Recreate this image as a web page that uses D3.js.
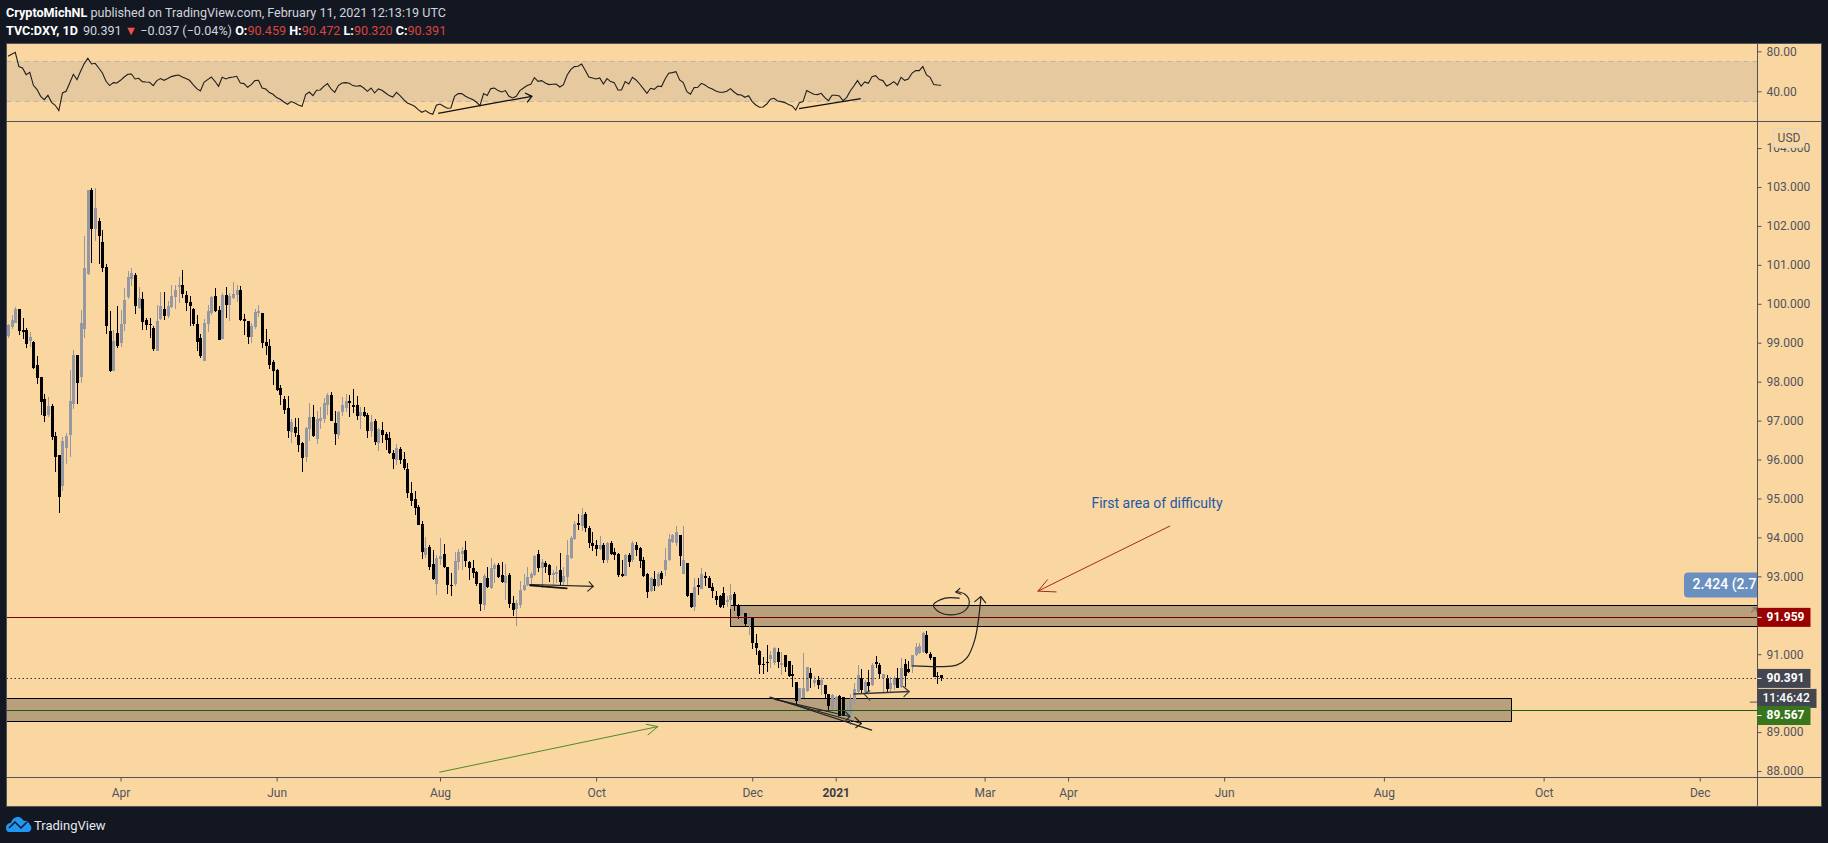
<!DOCTYPE html>
<html lang="en">
<head>
    <meta charset="UTF-8">
    <title>TVC:DXY, 1D</title>
    <script src="https://d3js.org/d3.v7.min.js"></script>
    <style>
        body {
            margin: 0;
            padding: 0;
            overflow: hidden;
            background: #131722;
        }
        text {
            font-family: Roboto, sans-serif;
        }
        .axis path, .axis line {
            stroke: #50535e;
        }
        .axis text {
            fill: #50535e;
            font-size: 12px;
            font-family: Roboto, sans-serif;
        }
    </style>
</head>
<body>
    <svg id="canvas"></svg>

    <script>
        // Daily candles
        const opens = [
            99.17,99.40,99.51,99.87,99.33,99.33,99.05,99.02,98.43,98.12,
            97.56,97.14,97.37,96.60,96.12,95.32,96.30,96.63,97.43,98.69,
            98.12,99.35,100.77,102.92,101.92,102.13,101.59,100.95,99.30,98.27,
            99.25,98.99,99.48,100.17,100.64,100.74,99.89,100.12,99.58,99.48,
            99.38,98.79,99.61,99.87,99.69,99.92,100.17,100.43,100.48,100.23,
            100.05,99.87,99.48,99.12,98.53,99.48,99.76,100.20,99.84,99.10,
            100.23,99.97,100.15,100.23,100.36,99.61,99.56,99.15,99.41,99.76,
            99.76,99.02,98.92,98.51,98.30,97.84,97.56,97.33,96.71,96.84,
            96.63,96.43,96.07,96.78,97.09,96.53,96.99,97.04,97.40,97.66,
            96.94,96.63,97.22,97.32,97.50,97.40,97.40,97.12,97.22,97.15,
            96.73,96.99,96.43,96.76,96.66,96.55,96.17,95.99,96.27,96.01,
            95.76,95.14,94.99,94.78,94.35,93.55,93.75,93.32,92.80,93.45,
            93.57,93.24,92.78,92.80,93.37,93.57,93.68,93.37,93.21,93.11,
            92.83,92.26,92.96,92.70,93.19,93.29,93.03,92.83,93.03,92.32,
            92.16,92.26,92.65,92.78,92.96,93.03,93.57,93.21,93.33,93.29,
            93.04,93.05,93.16,92.86,92.99,93.46,93.96,94.37,94.28,94.59,
            94.25,93.85,93.81,93.70,93.81,93.42,93.85,93.63,93.57,93.05,
            93.02,93.55,93.42,93.81,93.73,93.42,93.06,92.63,92.93,92.75,
            93.08,93.15,93.42,93.89,93.85,94.06,93.06,93.33,92.56,92.22,
            92.77,92.68,93.01,92.97,92.73,92.49,92.50,92.58,92.33,92.38,
            92.54,92.24,92.01,92.05,91.75,91.95,91.30,91.07,90.74,90.81,
            90.88,90.77,91.05,90.72,90.98,90.82,90.49,90.29,89.80,89.88,
            90.06,90.52,90.27,90.34,90.21,90.21,89.98,89.58,89.82,89.93,
            89.89,89.41,89.44,89.82,90.04,90.40,90.04,90.29,90.21,90.81,
            90.72,90.38,90.38,90.10,90.21,90.38,90.15,90.75,90.61,90.68,
            90.98,91.02,91.06,91.49,91.00,90.92,90.44,90.459
        ];
        const highs = [
            99.48,99.71,99.92,99.87,99.64,99.38,99.28,99.05,98.66,98.12,
            97.68,97.61,97.43,96.71,96.12,96.58,96.68,98.30,98.81,98.69,
            99.84,101.74,102.92,102.97,102.97,102.20,101.90,101.02,99.81,99.33,
            99.94,99.84,100.41,100.84,100.92,100.79,100.43,100.30,99.64,99.64,
            99.43,99.97,100.30,100.30,100.07,100.48,100.48,100.69,100.87,100.33,
            100.20,99.89,99.71,99.23,99.61,99.97,100.20,100.41,99.94,100.28,
            100.43,100.28,100.56,100.48,100.46,99.74,99.56,99.51,99.87,99.97,
            99.76,99.35,99.10,98.56,98.33,97.92,97.63,97.63,97.04,97.07,
            97.07,96.45,96.84,97.45,97.40,97.25,97.35,97.58,97.71,97.73,
            97.25,97.25,97.61,97.68,97.66,97.81,97.63,97.35,97.35,97.20,
            97.15,97.04,96.81,96.96,96.71,96.71,96.25,96.40,96.32,96.20,
            95.91,95.42,95.19,94.83,94.42,94.01,93.81,93.68,93.55,93.98,
            93.83,93.24,93.09,93.63,93.70,93.75,93.91,93.40,93.42,93.14,
            92.83,93.06,93.24,93.47,93.34,93.34,93.37,93.32,93.09,92.50,
            92.39,92.88,93.06,93.24,93.11,93.55,93.68,93.45,93.39,93.31,
            93.15,93.27,93.59,93.23,93.93,94.04,94.41,94.59,94.76,94.64,
            94.28,94.15,93.93,94.04,93.86,93.89,93.91,93.72,93.59,93.42,
            93.57,93.61,93.91,93.87,93.76,93.49,93.08,92.99,93.14,93.12,
            93.14,93.72,94.10,94.10,94.29,94.06,94.29,93.33,92.56,92.97,
            92.95,93.21,93.12,93.01,92.82,92.62,92.52,92.72,92.50,92.80,
            92.59,92.29,92.20,92.07,92.05,91.95,91.52,91.11,90.94,91.24,
            91.07,91.18,91.15,91.06,90.98,90.82,90.72,90.29,90.12,91.04,
            90.68,90.65,90.44,90.44,90.38,90.21,89.98,89.97,89.93,89.95,
            89.91,89.74,89.99,90.25,90.72,90.61,90.34,90.59,90.78,90.95,
            90.77,90.49,90.47,90.41,90.44,90.64,90.89,90.87,90.82,90.98,
            91.30,91.30,91.58,91.60,91.06,90.92,90.53,90.472
        ];
        const lows = [
            99.12,99.35,99.51,99.20,99.10,98.87,98.89,98.33,97.94,97.14,
            96.97,97.09,96.50,95.68,94.63,95.19,95.89,96.07,97.30,97.43,
            97.97,99.12,100.74,101.05,101.61,101.02,100.82,99.23,98.25,98.27,
            98.87,98.89,99.30,100.12,100.46,99.74,99.87,99.33,99.33,99.12,
            98.79,98.79,99.58,99.58,99.64,99.89,99.87,100.02,100.15,99.81,
            99.43,99.43,98.79,98.61,98.53,99.28,99.71,99.79,99.07,99.10,
            99.64,99.56,100.12,100.05,99.56,99.20,98.97,98.99,99.35,99.66,
            98.87,98.69,98.33,97.92,97.76,97.40,97.17,96.55,96.43,96.58,
            96.20,95.68,95.94,96.48,96.58,96.40,96.78,96.94,97.14,96.99,
            96.37,96.53,97.12,97.22,97.09,97.20,97.02,96.78,97.09,96.55,
            96.58,96.37,96.22,96.43,96.25,96.14,95.76,95.86,95.89,95.73,
            95.01,94.81,94.58,94.32,93.45,93.47,93.16,92.91,92.52,93.29,
            93.22,92.55,92.50,92.75,93.16,93.16,93.24,92.91,92.96,92.75,
            92.11,92.14,92.70,92.67,92.83,92.96,92.82,92.39,92.19,91.98,
            91.72,92.19,92.62,92.75,92.78,93.01,93.11,92.69,93.08,92.86,
            92.78,92.82,92.78,92.78,92.78,93.44,93.93,94.19,94.17,94.15,
            93.72,93.65,93.51,93.68,93.34,93.34,93.55,93.42,92.99,92.99,
            93.01,93.23,93.38,93.52,93.21,92.99,92.45,92.61,92.63,92.72,
            92.78,93.01,93.39,93.85,93.79,93.27,93.05,92.48,92.18,92.12,
            92.52,92.67,92.74,92.69,92.44,92.27,92.18,92.18,92.22,92.15,
            92.12,91.90,91.79,91.73,91.49,91.13,90.98,90.49,90.48,90.55,
            90.64,90.72,90.64,90.47,90.55,90.42,90.17,89.72,89.80,89.88,
            90.04,90.12,90.15,90.10,89.95,89.84,89.56,89.55,89.57,89.42,
            89.42,89.29,89.18,89.70,90.01,90.01,89.99,90.04,90.18,90.64,
            90.38,90.04,90.04,90.01,90.08,90.12,90.12,90.15,90.51,90.51,
            90.95,91.00,91.04,91.00,90.85,90.41,90.23,90.320
        ];
        const closes = [
            99.46,99.58,99.87,99.30,99.28,98.97,99.15,98.35,98.10,97.48,
            97.12,97.37,96.58,96.07,95.04,96.48,96.60,97.50,98.69,97.97,
            99.51,100.92,102.92,101.92,102.46,101.74,100.92,99.43,98.27,99.05,
            98.92,99.48,100.10,100.69,100.79,99.94,100.15,99.53,99.46,99.46,
            98.84,99.56,99.94,99.69,99.94,100.20,100.36,100.48,100.25,100.02,
            99.94,99.48,99.02,98.66,99.51,99.81,100.17,99.81,99.07,100.23,
            99.97,100.20,100.25,100.36,99.58,99.56,99.15,99.43,99.79,99.82,
            98.99,98.92,98.43,98.28,97.79,97.66,97.27,96.73,96.96,96.68,
            96.37,96.04,96.81,97.09,96.60,97.04,97.07,97.45,97.66,96.99,
            96.66,97.22,97.40,97.50,97.45,97.35,97.12,97.22,97.12,96.73,
            96.96,96.45,96.78,96.63,96.50,96.17,96.01,96.30,95.99,95.78,
            95.14,94.93,94.76,94.32,93.63,93.73,93.24,92.93,93.47,93.53,
            93.24,92.78,92.75,93.40,93.63,93.65,93.40,93.21,93.09,92.80,
            92.29,93.01,92.73,93.21,93.29,92.98,92.86,93.01,92.29,92.14,
            92.32,92.65,92.78,92.98,93.06,93.52,93.21,93.38,93.23,93.04,
            93.09,93.12,92.86,93.01,93.55,93.98,94.34,94.32,94.58,94.25,
            93.85,93.79,93.70,93.81,93.42,93.85,93.57,93.55,93.03,93.01,
            93.55,93.36,93.86,93.68,93.39,93.02,92.61,92.97,92.75,93.06,
            92.93,93.42,93.96,94.05,94.14,93.52,93.42,92.50,92.20,92.72,
            92.73,93.06,92.95,92.71,92.62,92.40,92.20,92.26,92.38,92.52,
            92.24,91.98,92.15,91.77,91.90,91.30,91.15,90.71,90.71,90.77,
            90.98,91.15,90.81,90.78,90.68,90.44,90.44,89.80,90.12,90.12,
            90.68,90.38,90.34,90.21,90.34,89.98,89.67,89.95,89.91,89.42,
            89.42,89.57,89.82,90.10,90.47,90.08,90.29,90.19,90.72,90.75,
            90.49,90.49,90.10,90.25,90.38,90.14,90.64,90.44,90.55,90.98,
            91.19,91.21,91.55,91.02,90.89,90.42,90.41,90.391
        ];

        // RSI pane, one value per candle
        const rsiValues = [
            75.0,77.0,79.0,64.7,63.3,56.7,59.0,46.0,41.7,35.0,
            31.7,36.0,29.0,26.0,20.7,38.3,40.0,48.3,57.0,51.7,
            60.0,67.7,73.0,67.3,68.0,63.3,58.3,50.0,45.7,48.7,
            48.3,51.0,54.3,57.0,57.3,52.3,53.0,49.7,49.3,49.0,
            45.7,50.7,52.7,51.0,52.7,54.7,55.7,56.3,54.3,52.7,
            51.0,46.7,42.7,40.3,49.0,51.7,54.3,50.0,45.0,54.0,
            52.3,53.7,54.3,55.0,48.3,47.7,44.0,46.7,50.7,51.0,
            43.3,42.3,38.7,37.0,33.7,32.0,29.3,27.0,29.7,28.3,
            26.3,25.0,36.7,39.3,35.7,41.0,41.3,45.0,47.7,42.3,
            39.0,45.7,48.3,48.7,48.0,45.7,45.0,45.7,43.3,40.0,
            43.3,38.3,42.3,41.0,38.3,35.7,34.3,39.0,35.7,31.7,
            28.3,26.7,25.0,21.7,19.0,20.7,18.3,17.0,26.0,27.3,
            25.0,23.0,23.3,35.0,37.7,37.7,35.0,33.3,31.7,29.3,
            25.7,37.7,35.7,42.7,43.3,40.7,39.3,40.7,35.0,33.3,
            35.0,40.7,43.3,45.7,47.0,53.7,50.0,50.7,48.3,46.7,
            47.0,47.3,44.3,46.7,56.0,61.7,64.7,65.0,67.3,61.0,
            54.3,53.3,52.3,53.3,47.3,52.7,49.7,48.7,41.3,41.3,
            49.7,47.3,54.0,51.3,47.3,42.7,38.0,43.0,42.0,45.3,
            44.7,52.3,58.0,58.7,59.7,51.3,48.7,39.7,37.0,43.7,
            44.0,48.0,46.3,43.7,42.3,40.3,39.0,39.0,40.0,42.7,
            39.3,36.7,36.3,34.0,35.7,29.7,26.3,24.0,24.3,27.3,
            32.0,33.0,30.3,29.7,28.7,26.7,25.3,21.3,28.7,29.7,
            40.7,38.7,37.0,36.7,38.0,33.7,30.7,36.0,36.0,35.3,
            30.7,33.7,40.3,45.3,50.7,45.3,49.3,48.0,54.7,55.7,
            51.7,50.7,45.3,47.0,49.7,46.3,54.0,51.0,52.3,58.0,
            60.7,60.7,64.7,56.3,54.0,46.7,46.3,46.0
        ];
        const rsiBand = [30, 70];
        const rsiTicks = [40, 80];

        // Axis labels
        const priceTicks = [88,89,91,93,94,95,96,97,98,99,100,101,102,103,104];
        const timeBars = [31,74,119,162,205,228,269,292,335,379,423,466];
        const timeLabels = ["Apr","Jun","Aug","Oct","Dec","2021","Mar","Apr","Jun","Aug","Oct","Dec"];

        // Levels and boxes on the price pane
        const redLevel = 91.959;
        const greenLevel = 89.567;
        const lastClose = 90.391;
        const upperBox = {bars: [199, 520], prices: [92.26, 91.72]};
        const lowerBox = {bars: [-3, 414], prices: [89.87, 89.28]};

        // Hand drawn lines as [bar, price] (the first three on the RSI as [bar, rsi])
        const rsiTrend1 = [[118.5,18],[130,25.7],[144.3,35]];
        const rsiHead1 = [[142.4,38.3],[144.3,35],[143,29]];
        const rsiTrend2 = [[217.9,22.7],[234.9,32.7]];
        const greenArrow = [[118.9,87.97],[179,89.14]];
        const greenHead = [[175.8,89.2],[179,89.14],[176.3,88.93]];
        const redArrow = [[320,94.29],[283.7,92.62]];
        const redHead = [[286.3,92.91],[283.7,92.62],[288.7,92.6]];
        const flatArrow = [[143.8,92.79],[161.2,92.74]];
        const flatThick = [[143.8,92.77],[153.9,92.69]];
        const flatHead = [[160.1,92.86],[161.2,92.74],[159.7,92.62]];
        const wedgeLine = [[209.9,89.90],[237.9,89.05]];
        const wedgeArrowA = [[209.9,89.88],[235.1,89.22]];
        const wedgeHeadA = [[233.3,89.38],[235.1,89.22],[233.5,89.11]];
        const wedgeArrowB = [[211.3,89.84],[231.9,89.40]];
        const wedgeHeadB = [[230.7,89.52],[231.9,89.40],[230.8,89.29]];
        const rangeArrow = [[233,89.98],[248.2,90.04]];
        const rangeHeadL = [[237.4,90.06],[235.8,89.98],[237.4,89.82]];
        const rangeHeadR = [[246.6,90.17],[248.2,90.04],[246.8,89.91]];
        const pathCurve = [[249.2,90.70],[256.7,90.68],[261.3,90.72],[264,90.89],[266.3,91.37],[268,92.46]];
        const pathHead = [[266.3,92.35],[268,92.48],[269.3,92.32]];
        const loopCurve = [[262,92.44],[258.1,92.44],[254.9,92.26],[256.7,92.07],[259.9,92.01],[263.6,92.12],[264.8,92.35],[263.6,92.54],[261.1,92.61]];
        const loopHead = [[262.2,92.69],[261.1,92.59],[262.5,92.54]];
        const edgeStub = [[479.9,89.77],[481.8,89.77]];
        const edgeArrow = [[480.2,92.08],[481.6,92.19]];
        const edgeHead = [[480.6,92.19],[481.6,92.19],[481.6,92.09]];

        const width = 1828;
        const height = 843;

        // Pane layout
        const paneLeft = 6.5, axisX = 1757.5, paneRight = 1821.5;
        const paneTop = 43.5, rsiBottom = 121.5, mainBottom = 777.5, paneBottom = 806.5;

        const bg = "#fad7a0";
        const upColor = "#9598a1";
        const downColor = "#000000";

        const svg = d3.select("#canvas")
            .attr("width", width)
            .attr("height", height)
            .style("display", "block");

        // Scales
        const x = d3.scaleLinear().domain([0, 257]).range([8, 941]);
        const y = d3.scaleLinear().domain([88, 103]).range([771, 187]);
        const yRsi = d3.scaleLinear().domain([30, 70]).range([101.3, 61.3]);

        // Pixel snapped y for thin horizontal lines
        const snapY = p => Math.round(y(p)) + 0.5;

        // Chart background
        svg.append("rect")
            .attr("x", paneLeft).attr("y", paneTop)
            .attr("width", paneRight - paneLeft).attr("height", paneBottom - paneTop)
            .attr("fill", bg);

        // Clips for the two panes
        const defs = svg.append("defs");
        defs.append("clipPath").attr("id", "clip-main").append("rect")
            .attr("x", paneLeft).attr("y", rsiBottom)
            .attr("width", axisX - paneLeft).attr("height", mainBottom - rsiBottom);
        defs.append("clipPath").attr("id", "clip-rsi").append("rect")
            .attr("x", paneLeft).attr("y", paneTop)
            .attr("width", axisX - paneLeft).attr("height", rsiBottom - paneTop);

        // RSI pane
        const rsiPane = svg.append("g").attr("clip-path", "url(#clip-rsi)");

        rsiPane.append("rect")
            .attr("x", paneLeft)
            .attr("y", yRsi(rsiBand[1]))
            .attr("width", axisX - paneLeft)
            .attr("height", yRsi(rsiBand[0]) - yRsi(rsiBand[1]))
            .attr("fill", "#e6c99e");

        rsiPane.selectAll(".band")
            .data(rsiBand)
            .enter()
            .append("line")
            .attr("class", "band")
            .attr("x1", paneLeft).attr("x2", axisX)
            .attr("y1", d => Math.round(yRsi(d)) + 0.5).attr("y2", d => Math.round(yRsi(d)) + 0.5)
            .attr("stroke", "#b9b6ad")
            .attr("stroke-dasharray", "5 4");

        rsiPane.append("path")
            .attr("d", d3.line().x((d, i) => x(i)).y(d => yRsi(d))(rsiValues))
            .attr("fill", "none")
            .attr("stroke", "#1e1e1e")
            .attr("stroke-width", 1.1);

        const rsiLine = d3.line().x(d => x(d[0])).y(d => yRsi(d[1])).curve(d3.curveCatmullRom);
        [rsiTrend1, rsiHead1, rsiTrend2].forEach((pts, i) => {
            rsiPane.append("path")
                .attr("d", i == 1 ? d3.line().x(d => x(d[0])).y(d => yRsi(d[1]))(pts) : rsiLine(pts))
                .attr("fill", "none")
                .attr("stroke", "#111")
                .attr("stroke-width", 1.3);
        });

        // Price pane
        const mainPane = svg.append("g").attr("clip-path", "url(#clip-main)");

        // Boxes sit under the candles
        [upperBox, lowerBox].forEach(b => {
            mainPane.append("rect")
                .attr("x", Math.round(x(b.bars[0])) + 0.5)
                .attr("y", snapY(b.prices[0]))
                .attr("width", Math.round(x(b.bars[1]) - x(b.bars[0])))
                .attr("height", snapY(b.prices[1]) - snapY(b.prices[0]))
                .attr("fill", "rgba(120,105,90,0.5)")
                .attr("stroke", "#000")
                .attr("stroke-width", 1);
        });

        // Candles
        const bars = d3.range(opens.length);
        const candles = mainPane.selectAll(".candle")
            .data(bars)
            .enter()
            .append("g")
            .attr("class", "candle")
            .attr("fill", i => closes[i] >= opens[i] ? upColor : downColor);

        candles.append("rect")
            .attr("x", i => Math.round(x(i)))
            .attr("y", i => y(highs[i]))
            .attr("width", 1)
            .attr("height", i => y(lows[i]) - y(highs[i]))
            .attr("shape-rendering", "crispEdges");

        candles.append("rect")
            .attr("x", i => Math.round(x(i)) - 1)
            .attr("y", i => y(Math.max(opens[i], closes[i])))
            .attr("width", 3)
            .attr("height", i => Math.max(1, Math.abs(y(opens[i]) - y(closes[i]))))
            .attr("shape-rendering", "crispEdges");

        // Horizontal levels
        mainPane.append("line")
            .attr("x1", paneLeft).attr("x2", axisX)
            .attr("y1", snapY(redLevel)).attr("y2", snapY(redLevel))
            .attr("stroke", "#7a0000").attr("stroke-width", 1);
        mainPane.append("line")
            .attr("x1", paneLeft).attr("x2", axisX)
            .attr("y1", snapY(greenLevel)).attr("y2", snapY(greenLevel))
            .attr("stroke", "#1f5c10").attr("stroke-width", 1);
        mainPane.append("line")
            .attr("x1", paneLeft).attr("x2", axisX)
            .attr("y1", snapY(lastClose)).attr("y2", snapY(lastClose))
            .attr("stroke", "#33363f").attr("stroke-width", 1)
            .attr("stroke-dasharray", "1.5 2.5");

        // Hand drawn marks
        const straight = d3.line().x(d => x(d[0])).y(d => y(d[1]));
        const curved = d3.line().x(d => x(d[0])).y(d => y(d[1])).curve(d3.curveCatmullRom);

        function drawMark(pts, color, w, gen) {
            mainPane.append("path")
                .attr("d", (gen || straight)(pts))
                .attr("fill", "none")
                .attr("stroke", color)
                .attr("stroke-width", w)
                .attr("stroke-linecap", "round")
                .attr("stroke-linejoin", "round");
        }

        drawMark(greenArrow, "#4c8a2a", 1);
        drawMark(greenHead, "#4c8a2a", 1);
        drawMark(redArrow, "#a8281c", 1);
        drawMark(redHead, "#a8281c", 1);

        drawMark(flatArrow, "#222", 1.2);
        drawMark(flatThick, "#111", 1.8);
        drawMark(flatHead, "#222", 1.1);

        drawMark(wedgeLine, "#222", 1.1);
        drawMark(wedgeArrowA, "#222", 1.1);
        drawMark(wedgeHeadA, "#222", 1.1);
        drawMark(wedgeArrowB, "#222", 1.1);
        drawMark(wedgeHeadB, "#222", 1.1);

        drawMark(rangeArrow, "#3a3a36", 1.5);
        drawMark(rangeHeadL, "#3a3a36", 1.2);
        drawMark(rangeHeadR, "#3a3a36", 1.2);

        drawMark(pathCurve, "#222", 1.2, curved);
        drawMark(pathHead, "#222", 1.2);
        drawMark(loopCurve, "#222", 1.2, curved);
        drawMark(loopHead, "#222", 1.2);

        drawMark(edgeStub, "#50535e", 1);
        drawMark(edgeArrow, "#6f6a62", 1);
        drawMark(edgeHead, "#6f6a62", 1);

        mainPane.append("text")
            .attr("x", x(316.5))
            .attr("y", y(94.85))
            .attr("text-anchor", "middle")
            .attr("dominant-baseline", "middle")
            .attr("fill", "#1f57a8")
            .attr("font-size", 14)
            .text("First area of difficulty");

        // Measure label running off the pane
        mainPane.append("rect")
            .attr("x", 1684).attr("y", y(93.1))
            .attr("width", 100).attr("height", 25)
            .attr("rx", 4)
            .attr("fill", "#6b90c0");
        mainPane.append("text")
            .attr("x", 1692.5).attr("y", y(93.1) + 13)
            .attr("dominant-baseline", "middle")
            .attr("fill", "#fff")
            .attr("font-size", 14)
            .attr("font-weight", 500)
            .text("2.424 (2.7");

        // Axes
        const priceAxis = d3.axisRight(y)
            .tickValues(priceTicks)
            .tickSize(4)
            .tickPadding(5)
            .tickFormat(d3.format(".3f"));
        svg.append("g")
            .attr("class", "axis")
            .attr("transform", `translate(${axisX},0)`)
            .call(priceAxis)
            .call(g => g.select(".domain").remove());

        const rsiAxis = d3.axisRight(yRsi)
            .tickValues(rsiTicks)
            .tickSize(4)
            .tickPadding(5)
            .tickFormat(d3.format(".2f"));
        svg.append("g")
            .attr("class", "axis")
            .attr("transform", `translate(${axisX},0)`)
            .call(rsiAxis)
            .call(g => g.select(".domain").remove());

        const timeAxis = d3.axisBottom(x)
            .tickValues(timeBars)
            .tickSize(4)
            .tickPadding(7)
            .tickFormat((d, i) => timeLabels[i]);
        svg.append("g")
            .attr("class", "axis")
            .attr("transform", `translate(0,${mainBottom})`)
            .call(timeAxis)
            .call(g => g.select(".domain").remove())
            .call(g => g.selectAll("text")
                .style("font-weight", d => d == 228 ? 700 : 400)
                .style("fill", d => d == 228 ? "#3a3d47" : "#50535e"));

        // Pane borders
        const borders = [
            [paneLeft, paneTop, paneRight, paneTop],
            [paneLeft, paneTop, paneLeft, paneBottom],
            [paneRight, paneTop, paneRight, paneBottom],
            [paneLeft, paneBottom, paneRight, paneBottom],
            [paneLeft, rsiBottom, paneRight, rsiBottom],
            [paneLeft, mainBottom, paneRight, mainBottom],
            [axisX, paneTop, axisX, paneBottom]
        ];
        svg.selectAll(".border")
            .data(borders)
            .enter()
            .append("line")
            .attr("class", "border")
            .attr("x1", d => d[0]).attr("y1", d => d[1])
            .attr("x2", d => d[2]).attr("y2", d => d[3])
            .attr("stroke", "#50535e")
            .attr("stroke-width", 1);

        // Price labels on the axis, shifted down when they would collide
        function priceTag(price, label, color, w, shift) {
            const h = 19;
            const mid = y(price) + shift;
            svg.append("rect")
                .attr("x", axisX).attr("y", mid - h / 2)
                .attr("width", w).attr("height", h)
                .attr("fill", color);
            svg.append("line")
                .attr("x1", axisX).attr("x2", axisX + 4)
                .attr("y1", mid).attr("y2", mid)
                .attr("stroke", "#fff");
            svg.append("text")
                .attr("x", axisX + 9).attr("y", mid + 0.5)
                .attr("dominant-baseline", "middle")
                .attr("fill", "#fff")
                .attr("font-size", 12)
                .attr("font-weight", 700)
                .text(label);
        }
        priceTag(redLevel, "91.959", "#990000", 53, 0.5);
        priceTag(lastClose, "90.391", "#434651", 53, 0.5);

        // Countdown under the last price
        svg.append("rect")
            .attr("x", axisX).attr("y", y(lastClose) + 11)
            .attr("width", 59).attr("height", 19)
            .attr("fill", "#434651");
        svg.append("text")
            .attr("x", axisX + 5).attr("y", y(lastClose) + 21)
            .attr("dominant-baseline", "middle")
            .attr("fill", "#fff")
            .attr("font-size", 12)
            .attr("font-weight", 500)
            .text("11:46:42");

        priceTag(greenLevel, "89.567", "#38761d", 53, 5.5);

        // USD button over the top tick
        svg.append("rect")
            .attr("x", 1773.5).attr("y", 128.5)
            .attr("width", 31).attr("height", 19)
            .attr("rx", 3)
            .attr("fill", bg)
            .attr("stroke", "#d8d5cf");
        svg.append("text")
            .attr("x", 1789).attr("y", 138.5)
            .attr("text-anchor", "middle")
            .attr("dominant-baseline", "middle")
            .attr("fill", "#50535e")
            .attr("font-size", 12)
            .text("USD");

        // Header
        const line1 = svg.append("text")
            .attr("x", 6).attr("y", 17)
            .attr("font-size", 12.6)
            .attr("fill", "#d1d4dc");
        line1.append("tspan").attr("font-weight", 700).attr("fill", "#fff").text("CryptoMichNL");
        line1.append("tspan").text(" published on TradingView.com, February 11, 2021 12:13:19 UTC");

        const line2 = svg.append("text")
            .attr("x", 6).attr("y", 35)
            .attr("font-size", 12.6)
            .attr("fill", "#d1d4dc");
        line2.append("tspan").attr("font-weight", 700).attr("fill", "#fff").text("TVC:DXY, 1D");
        line2.append("tspan").attr("dx", 5).text("90.391 ");
        line2.append("tspan").attr("fill", "#ef5350").text("▼");
        line2.append("tspan").text(" −0.037 (−0.04%) ");
        [["O:", "90.459"], ["H:", "90.472"], ["L:", "90.320"], ["C:", "90.391"]].forEach(p => {
            line2.append("tspan").attr("font-weight", 700).attr("fill", "#fff").text(p[0]);
            line2.append("tspan").attr("fill", "#d9443f").text(p[1] + " ");
        });

        // Footer logo
        const logo = svg.append("g").attr("transform", "translate(6,817)");
        logo.append("path")
            .attr("d", "M0 11 C0 8 2 6 5 6 C6 2 9 0 12 0 C15 0 16 2 18 4 C20 3 23 5 24 8 C26 9 26 15 22 15 L3 15 C1 15 0 13 0 11 Z")
            .attr("fill", "#2196f3");
        logo.append("path")
            .attr("d", "M3 11 L9 5 L15 11 L21 5")
            .attr("fill", "none")
            .attr("stroke", "#131722")
            .attr("stroke-width", 1.5);
        svg.append("text")
            .attr("x", 34).attr("y", 829.5)
            .attr("fill", "#e6e8ee")
            .attr("font-size", 13)
            .text("TradingView");
    </script>
</body>
</html>
